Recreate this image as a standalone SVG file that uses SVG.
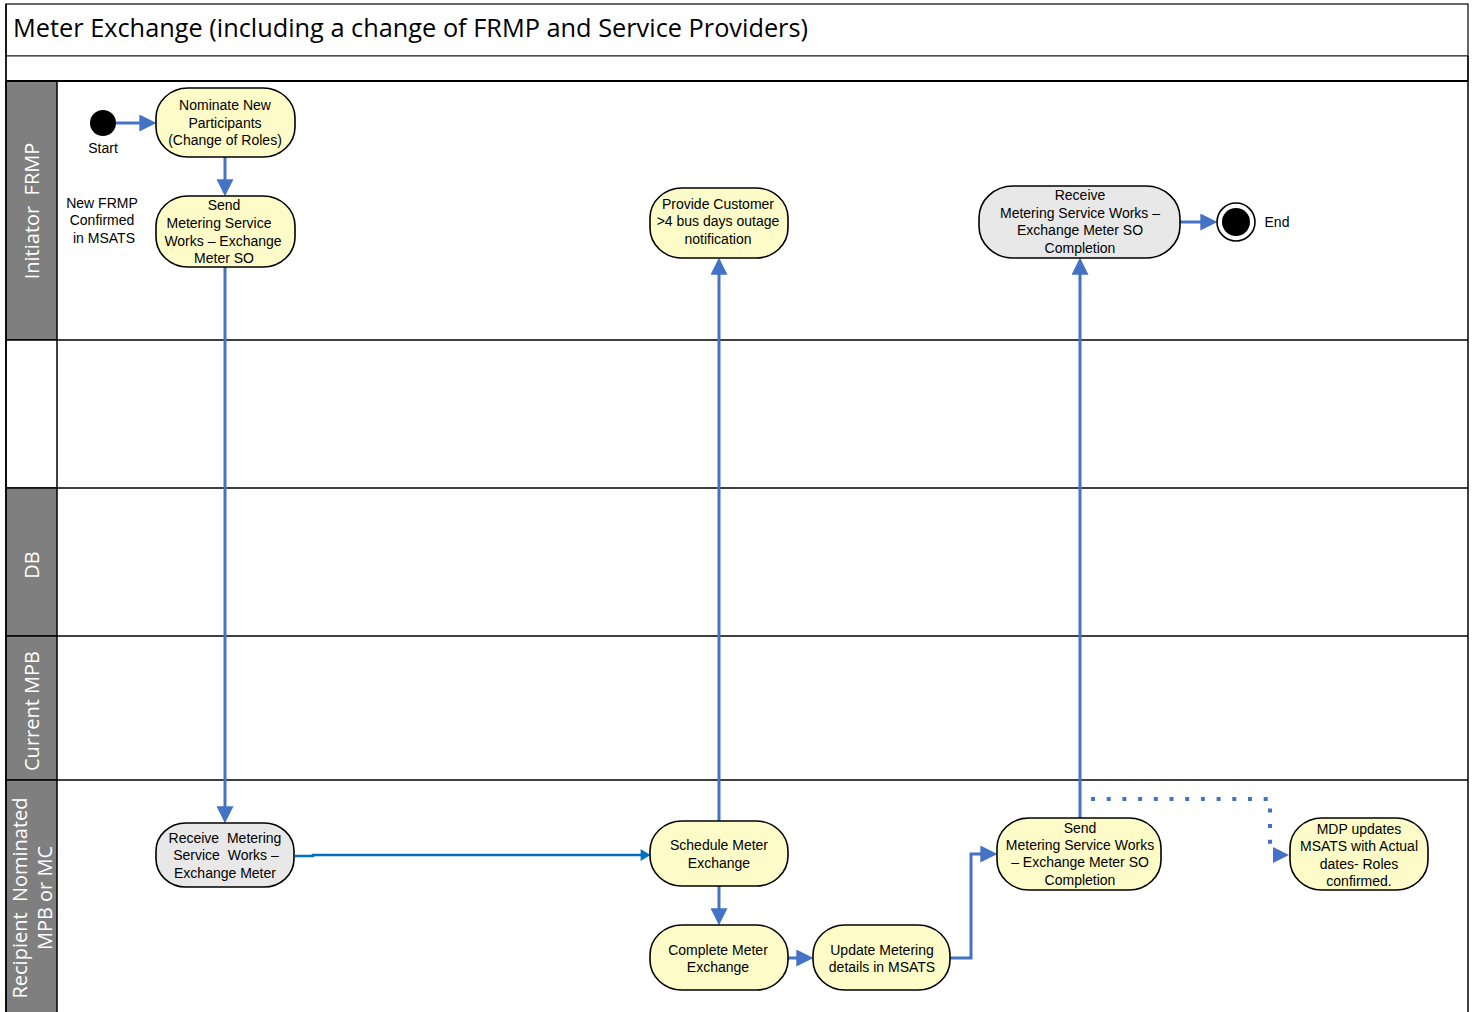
<svg xmlns="http://www.w3.org/2000/svg" width="1475" height="1012" viewBox="0 0 1475 1012">
<style>
.lane{fill:none;stroke:#000;stroke-width:2}
.hdr{fill:#7f7f7f;stroke:#000;stroke-width:1.5}
.hdrw{fill:#fff;stroke:#000;stroke-width:1.5}
.ht{font-family:"Open Sans","Noto Sans",sans-serif;font-size:20px;fill:#fff;text-anchor:middle;white-space:pre}
.node{stroke:#000;stroke-width:1.6}
.y{fill:#fdfcc8}
.g{fill:#e8e8e8}
.t{font-family:"Liberation Sans",Arial,sans-serif;font-size:14px;fill:#000;text-anchor:middle;white-space:pre}
.c{fill:none;stroke:#4472c4;stroke-width:3}
.thin{fill:none;stroke:#0070c0;stroke-width:2.5}
.dot{fill:none;stroke:#4472c4;stroke-width:4;stroke-dasharray:4 11.7}
</style>
<defs>
<marker id="ah" markerUnits="userSpaceOnUse" markerWidth="17" markerHeight="17" viewBox="0 0 15 15" refX="5" refY="7.5" orient="auto">
<path d="M0,0 L15,7.5 L0,15 z" fill="#4472c4"/>
</marker>
<marker id="ahs" markerUnits="userSpaceOnUse" markerWidth="10" markerHeight="12" viewBox="0 0 8 10" refX="2" refY="5" orient="auto">
<path d="M0,0 L8,5 L0,10 z" fill="#0070c0"/>
</marker>
</defs>
<rect width="1475" height="1012" fill="#fff"/>
<g id="pool">
<rect x="6" y="4" width="1462" height="52" fill="#fff" stroke="#000" stroke-width="1.2"/>
<text x="13" y="37" font-family="'Open Sans','Noto Sans',sans-serif" font-size="25" textLength="795" lengthAdjust="spacingAndGlyphs" fill="#000">Meter Exchange (including a change of FRMP and Service Providers)</text>
<rect x="6" y="56" width="1462" height="25" fill="#fff" stroke="#444" stroke-width="1.2"/>
<rect x="6" y="81" width="51" height="259" class="hdr"/>
<rect x="6" y="340" width="51" height="148" class="hdrw"/>
<rect x="6" y="488" width="51" height="148" class="hdr"/>
<rect x="6" y="636" width="51" height="144" class="hdr"/>
<rect x="6" y="780" width="51" height="240" class="hdr"/>
<line x1="6" y1="81" x2="1468" y2="81" stroke="#000" stroke-width="2"/>
<line x1="57" y1="340" x2="1468" y2="340" stroke="#000" stroke-width="1.5"/>
<line x1="57" y1="488" x2="1468" y2="488" stroke="#000" stroke-width="1.5"/>
<line x1="57" y1="636" x2="1468" y2="636" stroke="#000" stroke-width="1.5"/>
<line x1="57" y1="780" x2="1468" y2="780" stroke="#000" stroke-width="1.5"/>
<line x1="1468" y1="56" x2="1468" y2="1012" stroke="#000" stroke-width="1.5"/>
<line x1="6" y1="4" x2="6" y2="1012" stroke="#000" stroke-width="1.5"/>
<text class="ht" transform="translate(32,211) rotate(-90)" y="7" xml:space="preserve">Initiator  FRMP</text>
<text class="ht" transform="translate(32,565) rotate(-90)" y="7">DB</text>
<text class="ht" transform="translate(32,711) rotate(-90)" y="7">Current MPB</text>
<text class="ht" transform="translate(20,898) rotate(-90)" y="7" xml:space="preserve">Recipient  Nominated</text>
<text class="ht" transform="translate(45,898) rotate(-90)" y="7">MPB or MC</text>
</g>
<g id="connectors">
<line class="c" x1="116" y1="123" x2="145" y2="123" marker-end="url(#ah)"/>
<line class="c" x1="225" y1="157" x2="225" y2="185" marker-end="url(#ah)"/>
<line class="c" x1="225" y1="267" x2="225" y2="812" marker-end="url(#ah)"/>
<path class="thin" d="M295,856 H313 V855 H643" marker-end="url(#ahs)"/>
<line class="c" x1="719" y1="821" x2="719" y2="269" marker-end="url(#ah)"/>
<line class="c" x1="719" y1="886" x2="719" y2="914" marker-end="url(#ah)"/>
<line class="c" x1="788" y1="958" x2="802" y2="958" marker-end="url(#ah)"/>
<path class="c" d="M950,958 H971 V854 H986" marker-end="url(#ah)"/>
<line class="c" x1="1080" y1="818" x2="1080" y2="269" marker-end="url(#ah)"/>
<line class="c" x1="1180" y1="222" x2="1206" y2="222" marker-end="url(#ah)"/>
<path class="dot" d="M1091,799 H1270 V848"/>
<path d="M1273,847 L1289,855 L1273,863 z" fill="#4472c4"/>
</g>
<g id="start">
<circle cx="103" cy="123" r="13" fill="#000"/>
<text class="t" x="103" y="153">Start</text>
</g>
<g id="note-frmp">
<text class="t" x="102" y="208">New FRMP</text>
<text class="t" x="102" y="225">Confirmed</text>
<text class="t" x="104" y="243">in MSATS</text>
</g>
<g id="n-nominate">
<rect class="node y" x="156" y="88" width="139" height="69" rx="32" ry="30"/>
<text class="t" x="225" y="110">Nominate New</text>
<text class="t" x="225" y="128">Participants</text>
<text class="t" x="225" y="145">(Change of Roles)</text>
</g>
<g id="n-send">
<rect class="node y" x="156" y="196" width="139" height="71" rx="32" ry="30"/>
<text class="t" x="224" y="210">Send</text>
<text class="t" x="219" y="228">Metering Service</text>
<text class="t" x="223" y="246">Works – Exchange</text>
<text class="t" x="224" y="263">Meter SO</text>
</g>
<g id="n-provide">
<rect class="node y" x="650" y="188" width="138" height="70" rx="32" ry="30"/>
<text class="t" x="718" y="209">Provide Customer</text>
<text class="t" x="718" y="226">&gt;4 bus days outage</text>
<text class="t" x="718" y="244">notification</text>
</g>
<g id="n-receive-completion">
<rect class="node g" x="979" y="186" width="201" height="72" rx="34" ry="32"/>
<text class="t" x="1080" y="200">Receive</text>
<text class="t" x="1080" y="218">Metering Service Works –</text>
<text class="t" x="1080" y="235">Exchange Meter SO</text>
<text class="t" x="1080" y="253">Completion</text>
</g>
<g id="end">
<circle cx="1236" cy="222" r="19" fill="#fff" stroke="#000" stroke-width="1.6"/>
<circle cx="1236" cy="222" r="14" fill="#000"/>
<text class="t" x="1277" y="227">End</text>
</g>
<g id="n-receive">
<rect class="node g" x="156" y="823" width="138" height="64" rx="30" ry="28"/>
<text class="t" x="225" y="843" xml:space="preserve">Receive  Metering</text>
<text class="t" x="226" y="860" xml:space="preserve">Service  Works –</text>
<text class="t" x="225" y="878">Exchange Meter</text>
</g>
<g id="n-schedule">
<rect class="node y" x="650" y="821" width="138" height="65" rx="32" ry="30"/>
<text class="t" x="719" y="850">Schedule Meter</text>
<text class="t" x="719" y="868">Exchange</text>
</g>
<g id="n-complete">
<rect class="node y" x="650" y="925" width="138" height="65" rx="32" ry="30"/>
<text class="t" x="718" y="955">Complete Meter</text>
<text class="t" x="718" y="972">Exchange</text>
</g>
<g id="n-update">
<rect class="node y" x="813" y="925" width="137" height="65" rx="32" ry="30"/>
<text class="t" x="882" y="955">Update Metering</text>
<text class="t" x="882" y="972">details in MSATS</text>
</g>
<g id="n-send-completion">
<rect class="node y" x="997" y="818" width="164" height="72" rx="32" ry="30"/>
<text class="t" x="1080" y="833">Send</text>
<text class="t" x="1080" y="850">Metering Service Works</text>
<text class="t" x="1080" y="867">– Exchange Meter SO</text>
<text class="t" x="1080" y="885">Completion</text>
</g>
<g id="n-mdp">
<rect class="node y" x="1290" y="818" width="138" height="72" rx="32" ry="30"/>
<text class="t" x="1359" y="834">MDP updates</text>
<text class="t" x="1359" y="851">MSATS with Actual</text>
<text class="t" x="1359" y="869">dates- Roles</text>
<text class="t" x="1359" y="886">confirmed.</text>
</g>
</svg>
